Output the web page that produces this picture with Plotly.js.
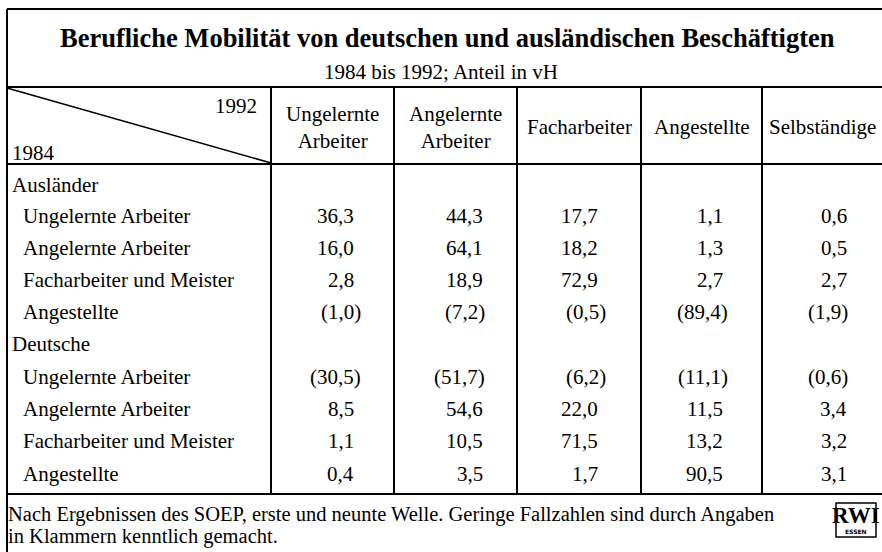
<!DOCTYPE html>
<html>
<head>
<meta charset="utf-8">
<script src="https://cdn.plot.ly/plotly-3.0.1.min.js"></script>
<style>html,body{margin:0;padding:0;background:#fff;}#chart{width:882px;height:552px;}</style>
</head>
<body>
<div id="chart"></div>
<script>
// ---- data ----
const title = "Berufliche Mobilität von deutschen und ausländischen Beschäftigten";
const subtitle = "1984 bis 1992; Anteil in vH";
const headerTo = "1992";
const headerFrom = "1984";
const columns = ["Ungelernte<br>Arbeiter", "Angelernte<br>Arbeiter", "Facharbeiter", "Angestellte", "Selbständige"];
const groups = ["Ausländer", "Deutsche"];
const rowLabels = ["Ungelernte Arbeiter", "Angelernte Arbeiter", "Facharbeiter und Meister", "Angestellte"];
const auslaender = [
  [36.3, 44.3, 17.7, 1.1, 0.6],
  [16.0, 64.1, 18.2, 1.3, 0.5],
  [2.8, 18.9, 72.9, 2.7, 2.7],
  [1.0, 7.2, 0.5, 89.4, 1.9]
];
const deutsche = [
  [30.5, 51.7, 6.2, 11.1, 0.6],
  [8.5, 54.6, 22.0, 11.5, 3.4],
  [1.1, 10.5, 71.5, 13.2, 3.2],
  [0.4, 3.5, 1.7, 90.5, 3.1]
];
// rows with low case numbers (shown in brackets)
const auslaenderLowN = [false, false, false, true];
const deutscheLowN = [true, false, false, false];
const footnoteLines = ["Nach Ergebnissen des SOEP, erste und neunte Welle. Geringe Fallzahlen sind durch Angaben",
                       "in Klammern kenntlich gemacht."];

// ---- layout geometry (pixel space) ----
const W = 882, H = 552;
const FONT = '"Liberation Serif", "Times New Roman", Times, serif';
const INK = "#000";
const colEdges = [7, 271, 394, 517, 641, 762, 882];
const valRight = [356, 485, 600, 725, 849];
const parenShift = [7, 2, 8, 5, 1];
const rowY = [185, 216, 248, 280, 312, 344, 377, 409, 441, 474];
const footY = [514, 536];
const yTop = 9, yTitleBottom = 87, yHeadBottom = 164, yBodyBottom = 494;

const shapes = [];
const ann = [];
function line(x0, y0, x1, y1, w) {
  shapes.push({type: "line", xref: "x", yref: "y", x0, y0, x1, y1, line: {color: INK, width: w || 2}});
}
function text(t, x, y, size, opts) {
  ann.push(Object.assign({text: t, x, y, xref: "x", yref: "y", showarrow: false,
    font: {family: FONT, size: size, color: INK}, xanchor: "center", yanchor: "middle"}, opts || {}));
}
function fmt(v) { return v.toFixed(1).replace(".", ","); }

// frame lines
line(7, yTop, W, yTop, 2);
line(7, yTop, 7, H, 2);
line(7, yTitleBottom, W, yTitleBottom, 2);
line(7, yHeadBottom, W, yHeadBottom, 2);
line(7, yBodyBottom, W, yBodyBottom, 2);
for (let i = 1; i < colEdges.length - 1; i++) line(colEdges[i], yTitleBottom, colEdges[i], yBodyBottom, 2);
line(7, yTitleBottom + 1, colEdges[1], yHeadBottom - 1, 1.6);

// titles
text("<b>" + title + "</b>", 447, 38, 26.5);
text(subtitle, 441, 72, 21);

// header
text(headerTo, 259, 106, 21, {xanchor: "right"});
text(headerFrom, 10, 153, 21, {xanchor: "left"});
for (let c = 0; c < columns.length; c++) {
  text(columns[c], (colEdges[c + 1] + colEdges[c + 2]) / 2, 127, 21);
}

// body
const blocks = [[groups[0], auslaender, auslaenderLowN], [groups[1], deutsche, deutscheLowN]];
let r = 0;
blocks.forEach(([g, vals, lowN]) => {
  text(g, 10, rowY[r], 21, {xanchor: "left"});
  r++;
  vals.forEach((row, i) => {
    text(rowLabels[i], 21, rowY[r], 21, {xanchor: "left"});
    row.forEach((v, c) => {
      const s = lowN[i] ? "(" + fmt(v) + ")" : fmt(v);
      text(s, valRight[c] + (lowN[i] ? parenShift[c] : 0), rowY[r], 21, {xanchor: "right"});
    });
    r++;
  });
});

// footnote
footnoteLines.forEach((t, i) => text(t, 6, footY[i], 20.5, {xanchor: "left", align: "left"}));

// RWI logo
shapes.push({type: "rect", xref: "x", yref: "y", x0: 836, y0: 503, x1: 876, y1: 537, line: {color: INK, width: 1.5}});
text("<b>RWI</b>", 856, 515, 23, {font: {family: FONT, size: 23, color: INK}});
text("<b>ESSEN</b>", 856, 531, 6, {font: {family: "DejaVu Sans", size: 6, color: INK}});

const data = [{x: [0, W], y: [0, H], mode: "markers", marker: {opacity: 0}, hoverinfo: "skip", showlegend: false}];
const layout = {
  width: W, height: H,
  margin: {l: 0, r: 0, t: 0, b: 0, pad: 0},
  paper_bgcolor: "#fff", plot_bgcolor: "#fff",
  xaxis: {range: [0, W], visible: false, fixedrange: true},
  yaxis: {range: [H, 0], visible: false, fixedrange: true},
  shapes: shapes, annotations: ann, showlegend: false
};
Plotly.newPlot("chart", data, layout, {staticPlot: true, displayModeBar: false});
</script>
</body>
</html>
